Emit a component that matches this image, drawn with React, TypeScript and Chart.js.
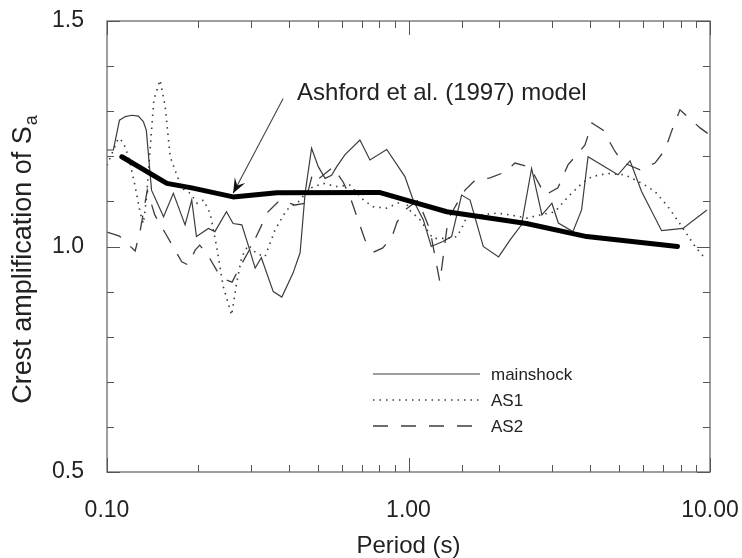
import { useEffect, useRef } from 'react';
import { Chart, registerables } from 'chart.js';
Chart.register(...registerables);

const FONT = '"Liberation Sans", Arial, Helvetica, sans-serif';

// ---- data (period in s, crest amplification) ----
const MAIN_T = [0.100,0.105,0.110,0.115,0.121,0.127,0.132,0.135,0.1405,0.154,0.166,0.1815,0.191,0.198,0.217,0.228,0.249,0.262,0.280,0.294,0.310,0.325,0.356,0.380,0.414,0.437,0.454,0.477,0.502,0.529,0.556,0.578,0.615,0.690,0.745,0.847,0.973,1.036,1.12,1.19,1.30,1.39,1.50,1.60,1.77,1.99,2.17,2.37,2.56,2.77,2.99,3.14,3.51,3.75,3.94,4.95,5.43,5.93,6.91,8.13,9.77];
const MAIN_V = [1.214,1.214,1.280,1.288,1.291,1.289,1.277,1.258,1.125,1.066,1.118,1.048,1.103,1.022,1.040,1.033,1.077,1.051,1.048,1.003,0.952,0.975,0.900,0.888,0.941,0.986,1.118,1.218,1.177,1.151,1.158,1.177,1.203,1.236,1.192,1.215,1.155,1.103,1.059,1.000,1.011,1.022,1.114,1.103,1.000,0.977,1.014,1.048,1.173,1.070,1.096,1.052,1.033,1.081,1.199,1.159,1.190,1.122,1.035,1.040,1.081];

const AS1_T = [0.100,0.109,0.113,0.118,0.124,0.129,0.132,0.135,0.143,0.150,0.156,0.162,0.168,0.177,0.189,0.199,0.209,0.220,0.231,0.243,0.259,0.269,0.280,0.294,0.313,0.334,0.361,0.394,0.431,0.471,0.522,0.578,0.640,0.709,0.764,0.847,0.973,1.01,1.09,1.205,1.34,1.45,1.52,1.56,1.73,1.97,2.17,2.47,2.73,3.06,3.38,3.76,4.06,4.59,5.22,5.95,6.57,7.26,8.07,8.92,9.62];
const AS1_V = [1.18,1.240,1.232,1.199,1.133,1.073,1.051,1.103,1.325,1.369,1.310,1.199,1.170,1.129,1.118,1.096,1.103,1.073,1.000,0.911,0.848,0.918,0.977,1.003,0.985,0.977,1.037,1.081,1.099,1.129,1.140,1.133,1.136,1.103,1.088,1.085,1.103,1.080,1.06,1.018,1.018,1.022,1.048,1.066,1.070,1.074,1.070,1.063,1.070,1.077,1.110,1.140,1.155,1.162,1.159,1.140,1.122,1.088,1.044,1.000,0.974];

const AS2_T = [0.100,0.110,0.124,0.129,0.136,0.144,0.156,0.177,0.186,0.196,0.203,0.216,0.233,0.248,0.260,0.276,0.303,0.342,0.375,0.421,0.454,0.482,0.508,0.562,0.607,0.640,0.680,0.718,0.769,0.822,0.881,0.916,0.973,1.076,1.178,1.271,1.352,1.427,1.540,1.662,1.864,2.089,2.254,2.529,2.838,3.13,3.38,3.85,4.06,4.42,4.81,5.11,5.86,6.57,7.09,7.48,7.95,8.45,9.27,10.0];
const AS2_V = [1.032,1.023,0.990,1.037,1.125,1.070,1.030,0.966,0.959,0.992,1.003,0.981,0.943,0.926,0.921,0.955,1.003,1.077,1.103,1.092,1.096,1.165,1.152,1.176,1.143,1.110,1.059,1.014,0.988,0.997,1.021,1.054,1.081,1.103,1.037,0.921,1.059,1.088,1.125,1.147,1.152,1.165,1.185,1.176,1.114,1.130,1.181,1.225,1.274,1.258,1.214,1.187,1.170,1.185,1.214,1.258,1.303,1.287,1.263,1.247];

const MODEL_T = [0.112,0.158,0.191,0.262,0.366,0.80,1.065,1.34,2.46,3.9,7.8];
const MODEL_V = [1.199,1.140,1.130,1.110,1.119,1.120,1.096,1.077,1.051,1.022,1.000];

const X_LABEL_VALUES = [0.1, 1, 10];
const X_LABEL_TEXT = ['0.10', '1.00', '10.00'];
const Y_LABEL_VALUES = [0.5, 1.0, 1.5];
const Y_LABEL_TEXT = ['0.5', '1.0', '1.5'];

const LEGEND_LABELS = ['mainshock', 'AS1', 'AS2'];
const MODEL_LABEL = 'Ashford et al. (1997) model';
const ANNOT_TEXT_AT = { x: 0.427, y: 1.34 };
const ARROW_FROM = { x: 0.384, y: 1.328 };
const ARROW_TO = { x: 0.262, y: 1.118 };

const pts = (xs: number[], ys: number[]) => xs.map((x, i) => ({ x, y: ys[i] }));

export default function App() {
  const ref = useRef<HTMLCanvasElement>(null);

  useEffect(() => {
    document.body.style.margin = '0';
    const canvas = ref.current!;

    const decor = {
      id: 'decor',
      afterDraw(chart: any) {
        const { ctx, chartArea: a, scales } = chart;
        const xs = scales.x, ys = scales.y;
        ctx.save();
        // frame
        ctx.strokeStyle = '#6a6a6a';
        ctx.lineWidth = 1.3;
        ctx.strokeRect(a.left, a.top, a.right - a.left, a.bottom - a.top);
        // x ticks (inward, top & bottom)
        ctx.lineWidth = 1;
        ctx.strokeStyle = '#555';
        xs.ticks.forEach((t: any) => {
          const v = t.value;
          const major = X_LABEL_VALUES.some((m) => Math.abs(m - v) < 1e-9);
          const len = major ? 14 : 7;
          const px = Math.round(xs.getPixelForValue(v)) + 0.5;
          ctx.beginPath();
          ctx.moveTo(px, a.bottom); ctx.lineTo(px, a.bottom - len);
          ctx.moveTo(px, a.top); ctx.lineTo(px, a.top + len);
          ctx.stroke();
        });
        ys.ticks.forEach((t: any) => {
          const v = t.value;
          const major = Y_LABEL_VALUES.some((m) => Math.abs(m - v) < 1e-9);
          const len = major ? 13 : 7;
          const py = Math.round(ys.getPixelForValue(v)) + 0.5;
          ctx.beginPath();
          ctx.moveTo(a.left, py); ctx.lineTo(a.left + len, py);
          ctx.moveTo(a.right, py); ctx.lineTo(a.right - len, py);
          ctx.stroke();
        });

        // y title with subscript
        ctx.fillStyle = '#222';
        const main = 'Crest amplification of S';
        ctx.font = `27px ${FONT}`;
        const wMain = ctx.measureText(main).width;
        ctx.font = `18px ${FONT}`;
        const wSub = ctx.measureText('a').width;
        ctx.translate(24, 260);
        ctx.rotate(-Math.PI / 2);
        ctx.textBaseline = 'middle';
        ctx.textAlign = 'left';
        const start = -(wMain + wSub) / 2;
        ctx.font = `27px ${FONT}`;
        ctx.fillText(main, start, 0);
        ctx.font = `18px ${FONT}`;
        ctx.fillText('a', start + wMain + 1, 8);
        ctx.setTransform(1, 0, 0, 1, 0, 0);

        // legend
        const lx0 = 373, lx1 = 480, ly = [374, 400, 426];
        LEGEND_LABELS.forEach((lab, i) => {
          const ds = chart.data.datasets.find((d: any) => d.label === lab);
          ctx.save();
          ctx.strokeStyle = ds.borderColor;
          ctx.lineWidth = ds.borderWidth;
          ctx.setLineDash(ds.borderDash || []);
          ctx.beginPath();
          ctx.moveTo(lx0, ly[i]); ctx.lineTo(lx1, ly[i]);
          ctx.stroke();
          ctx.restore();
          ctx.fillStyle = '#222';
          ctx.font = `17px ${FONT}`;
          ctx.textBaseline = 'middle';
          ctx.textAlign = 'left';
          ctx.fillText(lab, 491, ly[i] + 1);
        });

        // annotation
        ctx.fillStyle = '#222';
        ctx.font = `24px ${FONT}`;
        ctx.textBaseline = 'middle';
        ctx.fillText(MODEL_LABEL, xs.getPixelForValue(ANNOT_TEXT_AT.x), ys.getPixelForValue(ANNOT_TEXT_AT.y));
        const x0 = xs.getPixelForValue(ARROW_FROM.x), y0 = ys.getPixelForValue(ARROW_FROM.y);
        const x1 = xs.getPixelForValue(ARROW_TO.x), y1 = ys.getPixelForValue(ARROW_TO.y);
        ctx.strokeStyle = '#444';
        ctx.lineWidth = 1.1;
        ctx.beginPath();
        ctx.moveTo(x0, y0); ctx.lineTo(x1, y1);
        ctx.stroke();
        const ang = Math.atan2(y1 - y0, x1 - x0);
        const hl = 16, hw = 0.38;
        ctx.fillStyle = '#111';
        ctx.beginPath();
        ctx.moveTo(x1, y1);
        ctx.lineTo(x1 - hl * Math.cos(ang - hw), y1 - hl * Math.sin(ang - hw));
        ctx.lineTo(x1 - hl * 0.55 * Math.cos(ang), y1 - hl * 0.55 * Math.sin(ang));
        ctx.lineTo(x1 - hl * Math.cos(ang + hw), y1 - hl * Math.sin(ang + hw));
        ctx.closePath();
        ctx.fill();
        ctx.restore();
      },
    };

    const chart = new Chart(canvas, {
      type: 'line',
      data: {
        datasets: [
          { label: 'model', data: pts(MODEL_T, MODEL_V), borderColor: '#000', borderWidth: 5, pointRadius: 0, tension: 0, order: 0, borderCapStyle: 'round' as any, borderJoinStyle: 'round' as any },
          { label: 'mainshock', data: pts(MAIN_T, MAIN_V), borderColor: '#3c3c3c', borderWidth: 1.2, pointRadius: 0, tension: 0, order: 1 },
          { label: 'AS1', data: pts(AS1_T, AS1_V), borderColor: '#3c3c3c', borderWidth: 1.6, borderDash: [1.5, 5], pointRadius: 0, tension: 0, order: 1 },
          { label: 'AS2', data: pts(AS2_T, AS2_V), borderColor: '#3c3c3c', borderWidth: 1.3, borderDash: [15, 13], pointRadius: 0, tension: 0, order: 1 },
        ],
      },
      options: {
        responsive: false,
        animation: false,
        devicePixelRatio: 1,
        layout: { padding: { left: 0, right: 32, top: 21, bottom: 0 } },
        plugins: { legend: { display: false }, tooltip: { enabled: false } },
        scales: {
          x: {
            type: 'logarithmic',
            min: 0.1,
            max: 10,
            grid: { display: false },
            border: { display: false },
            ticks: {
              autoSkip: false,
              maxRotation: 0,
              padding: 17,
              color: '#222',
              font: { family: FONT, size: 23 },
              callback: (v: any) => {
                const i = X_LABEL_VALUES.findIndex((m) => Math.abs(m - Number(v)) < 1e-9);
                return i >= 0 ? X_LABEL_TEXT[i] : '';
              },
            },
            title: { display: true, text: 'Period (s)', color: '#222', font: { family: FONT, size: 24, lineHeight: 1 }, padding: 0 },
            afterFit: (s: any) => { s.height = 86; s.paddingLeft = 0; s.paddingRight = 0; },
          },
          y: {
            min: 0.5,
            max: 1.5,
            grid: { display: false },
            border: { display: false },
            ticks: {
              stepSize: 0.1,
              padding: 15,
              color: '#222',
              font: { family: FONT, size: 23 },
              callback: (v: any) => {
                const i = Y_LABEL_VALUES.findIndex((m) => Math.abs(m - Number(v)) < 1e-9);
                return i >= 0 ? Y_LABEL_TEXT[i] : '';
              },
            },
            afterFit: (s: any) => { s.width = 107; s.paddingTop = 0; s.paddingBottom = 0; },
          },
        },
      } as any,
      plugins: [decor],
    });
    return () => chart.destroy();
  }, []);

  return (
    <div style={{ width: 742, height: 558 }}>
      <canvas ref={ref} width={742} height={558} style={{ display: 'block' }} />
    </div>
  );
}
